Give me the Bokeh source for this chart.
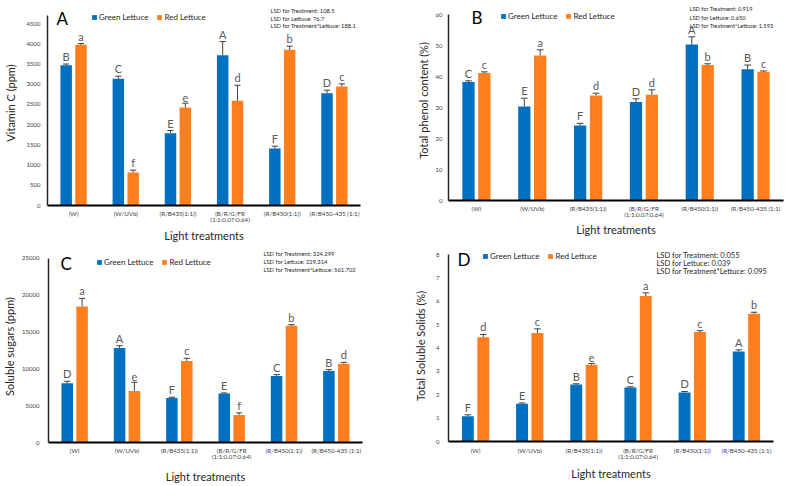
from bokeh.plotting import figure
from bokeh.models import (ColumnDataSource, FactorRange, Range1d, FixedTicker,
                          Label, Legend, LegendItem)
from bokeh.transform import dodge
from bokeh.layouts import gridplot
from bokeh.embed import file_html
from bokeh.resources import INLINE
from bokeh.core.properties import value

# ---------------- data ----------------
treatments = ["(W)", "(W/UVb)", "(R/B435(1:1))", "(B/R/G/FR\n(1:1:0.07:0.64)",
              "(R/B450(1:1))", "(R/B450-435 (1:1)"]

vitc_green = [3470, 3133, 1789, 3718, 1410, 2778]
vitc_green_err = [30, 66, 66, 338, 57, 74]
vitc_red = [3974, 816, 2424, 2589, 3850, 2943]
vitc_red_err = [32, 58, 107, 387, 91, 66]
vitc_green_letters = ["B", "C", "E", "A", "F", "D"]
vitc_red_letters = ["a", "f", "e", "d", "b", "c"]
vitc_lsd = ["LSD for Treatment: 108.5", "LSD for Lettuce: 76.7",
            "LSD for Treatment*Lettuce: 188.1"]

phen_green = [38.2, 30.3, 24.2, 31.8, 50.3, 42.3]
phen_green_err = [0.4, 2.7, 0.7, 1.0, 2.5, 1.4]
phen_red = [41.1, 46.8, 33.9, 34.1, 43.7, 41.5]
phen_red_err = [0.4, 1.8, 0.7, 1.6, 0.4, 0.3]
phen_green_letters = ["C", "E", "F", "D", "A", "B"]
phen_red_letters = ["c", "a", "d", "d", "b", "c"]
phen_lsd = ["LSD for Treatment: 0.919", "LSD for Lettuce: 0.650",
            "LSD for Treatment*Lettuce: 1.593"]

sug_green = [8047, 12839, 6058, 6646, 9042, 9720]
sug_green_err = [271, 316, 90, 90, 180, 180]
sug_red = [18490, 7007, 11076, 3752, 15868, 10714]
sug_red_err = [1085, 1176, 362, 272, 136, 181]
sug_green_letters = ["D", "A", "F", "E", "C", "B"]
sug_red_letters = ["a", "e", "c", "f", "b", "d"]
sug_lsd = ["LSD for Treatment: 324.299", "LSD for Lettuce: 229.314",
           "LSD for Treatment*Lettuce: 561.702"]

tss_green = [1.08, 1.61, 2.44, 2.31, 2.10, 3.85]
tss_green_err = [0.06, 0.04, 0.03, 0.03, 0.04, 0.07]
tss_red = [4.46, 4.64, 3.28, 6.22, 4.68, 5.46]
tss_red_err = [0.12, 0.18, 0.06, 0.14, 0.06, 0.07]
tss_green_letters = ["F", "E", "B", "C", "D", "A"]
tss_red_letters = ["d", "c", "e", "a", "c", "b"]
tss_lsd = ["LSD for Treatment: 0.055", "LSD for Lettuce: 0.039",
           "LSD for Treatment*Lettuce: 0.095"]

series_names = ["Green Lettuce", "Red Lettuce"]

# ---------------- style ----------------
FONT = "Lato"
BLUE = "#0070C0"
ORANGE = "#FF7F1E"
ERR = "#404040"
TXT = "#404040"
OFF = 0.142
BW = 0.22
CAP = 0.06


def panel(letter, ylabel, ymax, ticks, green, gerr, red, rerr, gl, rl, lsd,
          frame, origin, size, letter_pos, legend_pos, lsd_x, lsd_ys, lsd_size,
          ylab_standoff, yaxis_standoff, xlab_standoff, xaxis_standoff):
    # frame = (left, right, axis top, bottom) in page pixels; the plotting
    # frame itself reaches the top of the figure so that the texts above the
    # axis top are not clipped.
    fl, fr, ft, fb = frame
    ox, oy = origin
    w, h = size
    yend = ymax * (fb - oy) / (fb - ft)
    p = figure(width=w, height=h, x_range=FactorRange(factors=treatments),
               y_range=Range1d(0, yend), output_backend="svg",
               toolbar_location=None, frame_align=False,
               min_border_left=fl - ox, min_border_right=ox + w - fr,
               min_border_top=0, min_border_bottom=oy + h - fb)
    src = ColumnDataSource(dict(
        cat=treatments, g=green, r=red,
        gtop=[a + b for a, b in zip(green, gerr)],
        rtop=[a + b for a, b in zip(red, rerr)],
        gl=gl, rl=rl))
    xr = p.x_range
    rg = p.vbar(x=dodge("cat", -OFF, range=xr), top="g", width=BW, source=src,
                fill_color=BLUE, line_color=None)
    ro = p.vbar(x=dodge("cat", OFF, range=xr), top="r", width=BW, source=src,
                fill_color=ORANGE, line_color=None)
    for off, base, top in ((-OFF, "g", "gtop"), (OFF, "r", "rtop")):
        p.segment(x0=dodge("cat", off, range=xr), y0=base,
                  x1=dodge("cat", off, range=xr), y1=top, source=src,
                  line_color=ERR, line_width=1)
        p.segment(x0=dodge("cat", off - CAP, range=xr), y0=top,
                  x1=dodge("cat", off + CAP, range=xr), y1=top, source=src,
                  line_color=ERR, line_width=1)
    p.text(x=dodge("cat", -OFF, range=xr), y="gtop", text="gl", source=src,
           text_align="center", text_baseline="bottom", y_offset=-1,
           text_font=value(FONT), text_font_size="11px", text_color="#595959")
    p.text(x=dodge("cat", OFF, range=xr), y="rtop", text="rl", source=src,
           text_align="center", text_baseline="bottom", y_offset=-1,
           text_font=value(FONT), text_font_size="11px", text_color="#595959")

    # panel letter
    lx, ly = letter_pos
    p.add_layout(Label(x=lx - fl, y=fb - ly, x_units="screen", y_units="screen",
                       text=letter, text_font=FONT, text_font_size="17px",
                       text_color="black", text_align="left",
                       text_baseline="middle"))
    # LSD lines
    for t, yy in zip(lsd, lsd_ys):
        p.add_layout(Label(x=lsd_x - fl, y=fb - yy, x_units="screen",
                           y_units="screen", text=t, text_font=FONT,
                           text_font_size=lsd_size, text_color="#262626",
                           text_align="left", text_baseline="middle"))
    # legend
    gx, gy = legend_pos
    leg = Legend(items=[LegendItem(label=series_names[0], renderers=[rg]),
                        LegendItem(label=series_names[1], renderers=[ro])],
                 location=(gx - fl, fb - gy - 4), orientation="horizontal",
                 border_line_color=None, background_fill_alpha=0,
                 label_text_font=FONT, label_text_font_size="8px",
                 label_text_color="#262626",
                 glyph_width=6, glyph_height=6, label_standoff=2,
                 label_height=8, spacing=8, padding=0, margin=0)
    p.add_layout(leg)

    p.xgrid.visible = False
    p.ygrid.visible = False
    p.outline_line_color = None
    p.background_fill_color = "white"

    p.yaxis.ticker = FixedTicker(ticks=ticks)
    p.yaxis.bounds = (0, ymax)
    p.yaxis.major_tick_line_color = None
    p.yaxis.minor_tick_line_color = None
    p.yaxis.major_tick_out = 0
    p.yaxis.major_tick_in = 0
    p.yaxis.minor_tick_out = 0
    p.yaxis.axis_line_color = "#262626"
    p.yaxis.axis_line_width = 1.5
    p.yaxis.major_label_text_font = FONT
    p.yaxis.major_label_text_font_size = "6px"
    p.yaxis.major_label_text_color = TXT
    p.yaxis.major_label_standoff = ylab_standoff
    p.yaxis.axis_label = ylabel
    p.yaxis.axis_label_text_font = FONT
    p.yaxis.axis_label_text_font_style = "normal"
    p.yaxis.axis_label_text_font_size = "11px"
    p.yaxis.axis_label_text_color = "#262626"
    p.yaxis.axis_label_standoff = yaxis_standoff

    p.xaxis.major_tick_line_color = None
    p.xaxis.minor_tick_line_color = None
    p.xaxis.major_tick_out = 0
    p.xaxis.major_tick_in = 0
    p.xaxis.minor_tick_out = 0
    p.xaxis.axis_line_color = "black"
    p.xaxis.axis_line_width = 2
    p.xaxis.major_label_text_font = FONT
    p.xaxis.major_label_text_font_size = "6.2px"
    p.xaxis.major_label_text_line_height = 0.9
    p.xaxis.major_label_text_color = TXT
    p.xaxis.major_label_standoff = xlab_standoff
    p.xaxis.axis_label = "Light treatments"
    p.xaxis.axis_label_text_font = FONT
    p.xaxis.axis_label_text_font_style = "normal"
    p.xaxis.axis_label_text_font_size = "11px"
    p.xaxis.axis_label_text_color = "#262626"
    p.xaxis.axis_label_standoff = xaxis_standoff
    return p


TOP_H = 250
BOT_H = 235

pA = panel("A", "Vitamin C (ppm)", 4700, list(range(0, 4501, 500)),
           vitc_green, vitc_green_err, vitc_red, vitc_red_err,
           vitc_green_letters, vitc_red_letters, vitc_lsd,
           frame=(45, 360, 15, 205), origin=(0, 0), size=(393, TOP_H),
           letter_pos=(54, 18), legend_pos=(89, 18), lsd_x=268,
           lsd_ys=(10, 18, 25), lsd_size="5.8px",
           ylab_standoff=7, yaxis_standoff=7, xlab_standoff=4, xaxis_standoff=3)

pB = panel("B", "Total phenol content (%)", 60, list(range(0, 61, 10)),
           phen_green, phen_green_err, phen_red, phen_red_err,
           phen_green_letters, phen_red_letters, phen_lsd,
           frame=(448, 783, 14, 200), origin=(393, 0), size=(393, TOP_H),
           letter_pos=(471, 17), legend_pos=(500, 17), lsd_x=689,
           lsd_ys=(8, 16.5, 25), lsd_size="5.7px",
           ylab_standoff=6, yaxis_standoff=3, xlab_standoff=4, xaxis_standoff=2)

pC = panel("C", "Soluble sugars (ppm)", 25000, list(range(0, 25001, 5000)),
           sug_green, sug_green_err, sug_red, sug_red_err,
           sug_green_letters, sug_red_letters, sug_lsd,
           frame=(45, 362, 258, 443), origin=(0, TOP_H), size=(393, BOT_H),
           letter_pos=(57, 264), legend_pos=(93, 264), lsd_x=260,
           lsd_ys=(254, 262, 270), lsd_size="5.8px",
           ylab_standoff=9, yaxis_standoff=3, xlab_standoff=4, xaxis_standoff=7)

pD = panel("D", "Total Soluble Solids (%)", 8, list(range(0, 9, 1)),
           tss_green, tss_green_err, tss_red, tss_red_err,
           tss_green_letters, tss_red_letters, tss_lsd,
           frame=(448, 773, 254, 441), origin=(393, TOP_H), size=(393, BOT_H),
           letter_pos=(457, 259), legend_pos=(482, 257), lsd_x=656,
           lsd_ys=(254.5, 262.5, 270.5), lsd_size="7.5px",
           ylab_standoff=9, yaxis_standoff=6, xlab_standoff=5, xaxis_standoff=4)

grid = gridplot([[pA, pB], [pC, pD]], toolbar_location=None)

open("out.html", "w").write(file_html(grid, INLINE))
